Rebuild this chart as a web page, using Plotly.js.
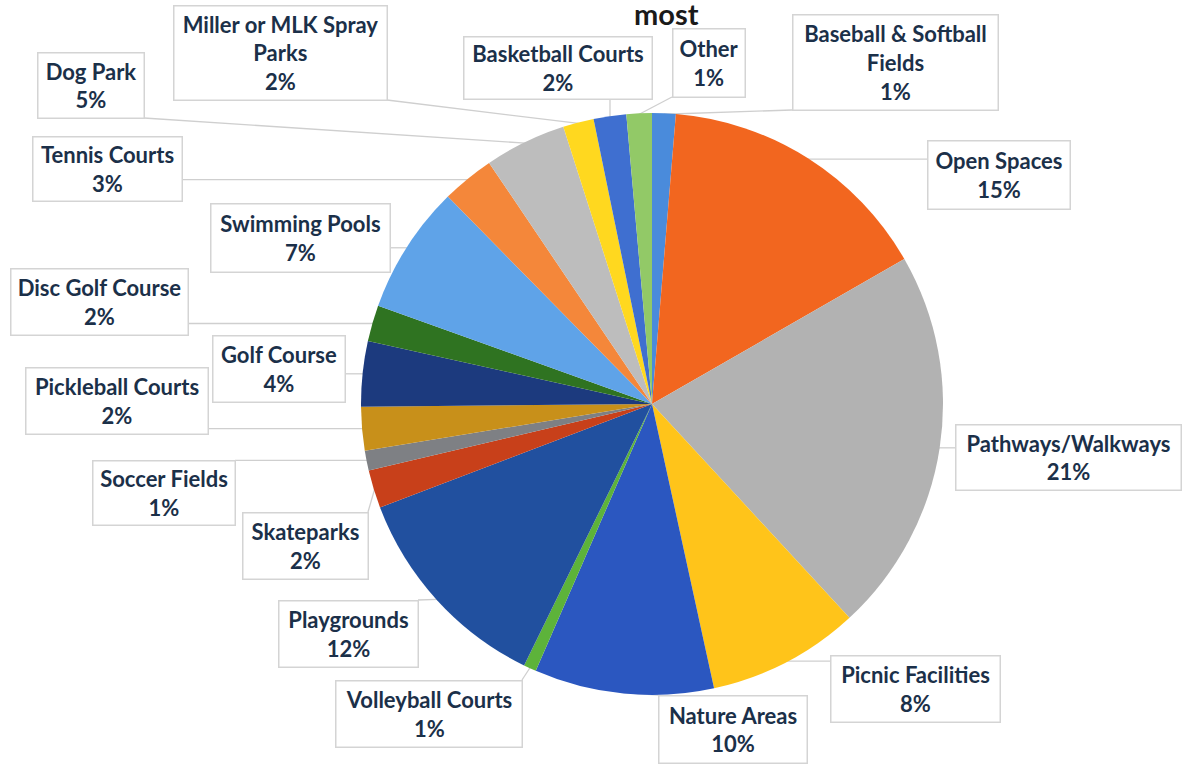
<!DOCTYPE html>
<html>
<head>
<meta charset="utf-8">
<script src="https://cdn.plot.ly/plotly-3.0.1.min.js"></script>
<style>html,body{margin:0;padding:0;background:#fff;}#chart{width:1182px;height:764px;}</style>
</head>
<body>
<div id="chart"></div>
<script>
// ---- data (clockwise from 12 o'clock) ----
const categories = [
  "Baseball & Softball Fields", "Open Spaces", "Pathways/Walkways", "Picnic Facilities",
  "Nature Areas", "Volleyball Courts", "Playgrounds", "Skateparks", "Soccer Fields",
  "Pickleball Courts", "Golf Course", "Disc Golf Course", "Swimming Pools", "Tennis Courts",
  "Dog Park", "Miller or MLK Spray Parks", "Basketball Courts", "Other"
];
const shares = [1.3, 15.3, 21.3, 8.4, 9.9, 0.7, 11.9, 2.1, 1.1, 2.4, 3.6, 2.0, 7.1, 2.9, 4.5, 1.7, 1.8, 1.4];
const sliceColors = [
  "#4A8BDB", "#F2661F", "#B2B2B2", "#FFC41A", "#2B57C0", "#5DB33A", "#21509F", "#C8401A", "#7E8084",
  "#C8901A", "#1C3A7E", "#2F7321", "#5FA3E8", "#F4873A", "#BDBDBD", "#FFD81F", "#3F6FD0", "#92C967"
];
const titleText = "most";

// ---- layout (pixels) ----
const W = 1182, H = 764;
const CX = 652, CY = 404, R = 291;
// label boxes: [left, top, right, bottom]
const labelBoxes = [
  [792, 14, 998, 110], [927, 140, 1070, 209], [955, 424, 1181, 490], [830, 655, 1000, 722],
  [658, 695, 807, 763], [335, 680, 522, 747], [278, 600, 418, 667], [242, 512, 368, 579],
  [92, 460, 235, 525], [25, 368, 208, 435], [212, 335, 345, 402], [10, 268, 188, 335],
  [210, 203, 390, 272], [32, 137, 182, 202], [37, 52, 144, 118], [173, 5, 387, 100],
  [463, 37, 652, 100], [672, 28, 745, 97]
];

const px = x => x / W;
const py = y => 1 - y / H;

const total = shares.reduce((a, b) => a + b, 0);
function wrap(s) {
  if (s.length <= 20) return s;
  const i = s.lastIndexOf(" ");
  return s.slice(0, i) + "<br>" + s.slice(i + 1);
}

const annotations = [];
const shapes = [];
let cum = 0;
categories.forEach((c, i) => {
  const v = shares[i];
  const mid = (cum + v / 2) / total * 2 * Math.PI;
  cum += v;
  const pct = Math.round(v / total * 100);
  const b = labelBoxes[i];
  annotations.push({
    xref: "paper", yref: "paper",
    x: px((b[0] + b[2]) / 2), y: py((b[1] + b[3]) / 2),
    xanchor: "center", yanchor: "middle",
    text: wrap(c) + "<br>" + pct + "%",
    showarrow: false,
    width: b[2] - b[0] - 2, height: b[3] - b[1] - 2,
    bgcolor: "rgba(255,255,255,1)",
    bordercolor: "#D4D4D4", borderwidth: 1.5, borderpad: 0,
    font: {family: "Lato, 'Open Sans', sans-serif", size: 22, color: "#1B3049", weight: 700}
  });
  // leader line: from slice rim (mid-angle) to nearest point of the box
  const rx = CX + (R - 1) * Math.sin(mid);
  const ry = CY - (R - 1) * Math.cos(mid);
  const ax = Math.min(Math.max(rx, b[0]), b[2]);
  const ay = Math.min(Math.max(ry, b[1]), b[3]);
  shapes.push({
    type: "line", xref: "paper", yref: "paper",
    x0: px(rx), y0: py(ry), x1: px(ax), y1: py(ay),
    line: {color: "#CFCFCF", width: 1.3}, layer: "below"
  });
});
// title (drawn last, above the label boxes)
annotations.push({
  xref: "paper", yref: "paper", x: px(666), y: py(-5),
  xanchor: "center", yanchor: "top", showarrow: false, borderpad: 0,
  text: titleText,
  font: {family: "Lato, 'Open Sans', sans-serif", size: 29, color: "#1a1a1a", weight: 700}
});

const trace = {
  type: "pie",
  labels: categories,
  values: shares,
  sort: false,
  direction: "clockwise",
  rotation: 0,
  textinfo: "none",
  hoverinfo: "skip",
  automargin: false,
  marker: {colors: sliceColors, line: {width: 0}},
  domain: {x: [px(CX - R), px(CX + R)], y: [py(CY + R), py(CY - R)]},
  showlegend: false
};

const layout = {
  width: W, height: H,
  margin: {l: 0, r: 0, t: 0, b: 0},
  paper_bgcolor: "#ffffff",
  showlegend: false,
  annotations: annotations,
  shapes: shapes
};

Plotly.newPlot("chart", [trace], layout, {displayModeBar: false, staticPlot: true});
</script>
</body>
</html>
